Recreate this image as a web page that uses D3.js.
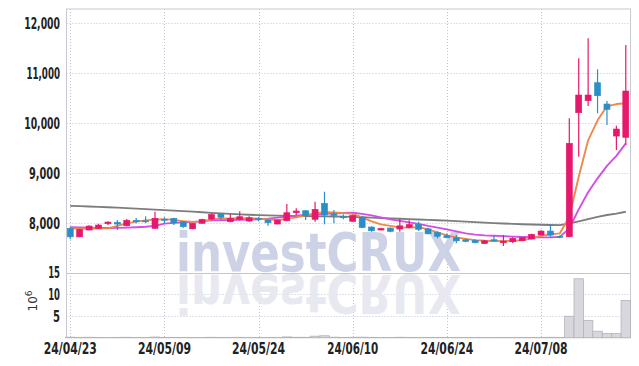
<!DOCTYPE html>
<html>
<head>
<meta charset="utf-8">
<script src="https://cdn.jsdelivr.net/npm/d3@7"></script>
<style>
  body { margin: 0; background: #fff; }
  svg { display: block; }
  .tick-label { font-family: "Liberation Sans Narrow", "DejaVu Sans Condensed", sans-serif; font-weight: bold; fill: #222; }
</style>
</head>
<body>
<svg id="chart" width="639" height="366"></svg>
<script>
// trading days, 2024-04-23 .. 2024-07-19
const dates = [
  '24/04/23','24/04/24','24/04/25','24/04/26','24/04/29','24/04/30','24/05/02','24/05/03','24/05/07','24/05/08',
  '24/05/09','24/05/10','24/05/13','24/05/14','24/05/16','24/05/17','24/05/20','24/05/21','24/05/22','24/05/23',
  '24/05/24','24/05/27','24/05/28','24/05/29','24/05/30','24/05/31','24/06/03','24/06/04','24/06/05','24/06/07',
  '24/06/10','24/06/11','24/06/12','24/06/13','24/06/14','24/06/17','24/06/18','24/06/19','24/06/20','24/06/21',
  '24/06/24','24/06/25','24/06/26','24/06/27','24/06/28','24/07/01','24/07/02','24/07/03','24/07/04','24/07/05',
  '24/07/08','24/07/09','24/07/10','24/07/11','24/07/12','24/07/15','24/07/16','24/07/17','24/07/18','24/07/19'
];

const opens  = [7900,7730,7866,7900,7992,8020,7952,8060,8050,7900, 8080,8100,8032,7890,8000,8086,8186,8032,8080,8046,
                8100,8066,7986,8052,8212,8252,8080,8400,8186,8132, 8040,8126,7926,7866,7906,7886,7922,7980,7890,7816,
                7752,7712,7672,7660,7595,7672,7612,7632,7652,7686, 7766,7846,7740,7732,10212,10452,10812,10386,9746,9720];
const highs  = [7930,7890,7960,7990,8040,8066,8086,8106,8140,8232, 8120,8110,8040,8005,8090,8200,8200,8180,8240,8140,
                8130,8080,8070,8386,8300,8260,8432,8632,8266,8180, 8170,8140,7940,7910,7915,8086,8060,8032,7910,7840,
                7800,7766,7700,7680,7670,7766,7766,7720,7720,7790, 7860,7980,7760,10100,11300,11700,11080,10446,9952,11566];
const lows   = [7680,7720,7860,7890,7966,7866,7940,8000,8006,7890, 8000,7966,7912,7880,7995,8060,8066,8020,8060,8030,
                8040,7952,7980,8040,8166,8066,8032,7980,8000,8080, 8030,7900,7830,7860,7820,7832,7900,7846,7780,7700,
                7700,7600,7620,7600,7590,7640,7546,7600,7640,7680, 7760,7732,7700,7720,9332,10346,10200,9966,9466,9566];
const closes = [7730,7880,7946,7966,8025,7986,8060,8032,8040,8100, 8070,8010,7932,8000,8080,8176,8120,8100,8132,8112,
                8080,8012,8066,8212,8246,8152,8280,8166,8160,8112, 8160,7916,7852,7896,7840,7950,7975,7880,7790,7740,
                7712,7650,7640,7612,7650,7646,7646,7700,7712,7780, 7846,7766,7725,9600,10566,10566,10552,10280,9886,10646];

// volume, millions of shares
const volumes = [0.12,0.08,0.10,0.07,0.06,0.08,0.10,0.06,0.07,0.15, 0.08,0.07,0.08,0.06,0.07,0.10,0.08,0.07,0.09,0.06,
                 0.05,0.06,0.06,0.18,0.10,0.10,0.35,0.45,0.12,0.08, 0.10,0.12,0.08,0.06,0.06,0.10,0.08,0.07,0.06,0.07,
                 0.06,0.08,0.05,0.05,0.05,0.06,0.08,0.06,0.05,0.06, 0.07,0.10,0.06,4.95,13.6,4.0,1.5,0.95,0.95,8.6];

// moving averages
const ma5  = [7900,7895,7893,7895,7900,7950,8000,8035,8060,8075, 8085,8070,8045,8030,8035,8080,8095,8100,8105,8100,
              8095,8080,8066,8090,8120,8160,8200,8225,8220,8205, 8190,8120,8040,7980,7950,7920,7915,7925,7880,7820,
              7760,7720,7690,7665,7652,7648,7645,7650,7665,7700, 7750,7780,7800,8130,8930,9660,10060,10340,10385,10400];
const ma20 = [7925,7920,7915,7910,7908,7910,7915,7922,7932,7950, 7995,8010,8020,8030,8045,8060,8065,8068,8072,8076,
              8080,8095,8115,8140,8155,8170,8180,8190,8200,8208, 8212,8190,8160,8120,8080,8050,8020,7990,7950,7915,
              7880,7840,7800,7775,7760,7752,7745,7735,7728,7722, 7720,7722,7730,7900,8280,8620,8900,9150,9350,9600];
const ma60 = [8350,8345,8338,8330,8322,8315,8305,8295,8285,8275, 8265,8255,8245,8235,8222,8210,8200,8190,8180,8172,
              8165,8160,8155,8150,8147,8145,8143,8140,8138,8135, 8130,8122,8115,8108,8100,8092,8085,8078,8070,8062,
              8055,8045,8035,8025,8015,8005,7997,7990,7983,7978, 7972,7968,7965,7998,8040,8085,8130,8166,8195,8232];

const priceTicks = [8000, 9000, 10000, 11000, 12000];
const volTicks = [5, 10, 15];
const dateTickIdx = [0, 10, 20, 30, 40, 50];

const UP = '#e5186b', DOWN = '#2b8fc6';

const svg = d3.select('#chart');
const L = 66.5, R = 630.5, T = 9, MID = 272.7, B = 337.7;

const x = d3.scaleLinear().domain([-0.4, 59.5]).range([L, R]);
const y = d3.scaleLinear().domain([7013, 12286]).range([MID, T]);
const yv = d3.scaleLinear().domain([0, 15]).range([B, MID]);
const step = x(1) - x(0);

// the label font is narrower than anything installed, so squeeze to its width
const charW = { '1': 4.8, ',': 3, '/': 5.5 };
const labelWidth = s => d3.sum(s.split(''), c => charW[c] || 7);

// grid
const grid = svg.append('g').attr('stroke', '#bfc2d6').attr('stroke-width', 1).attr('stroke-dasharray', '1,2');
grid.selectAll('.hp').data(priceTicks).join('line')
  .attr('x1', L).attr('x2', R).attr('y1', d => Math.round(y(d)) + 0.5).attr('y2', d => Math.round(y(d)) + 0.5);
grid.selectAll('.hv').data(volTicks.slice(0, 2)).join('line')
  .attr('x1', L).attr('x2', R).attr('y1', d => Math.round(yv(d)) + 0.5).attr('y2', d => Math.round(yv(d)) + 0.5);
grid.selectAll('.vx').data(dateTickIdx).join('line')
  .attr('x1', d => Math.round(x(d)) + 0.5).attr('x2', d => Math.round(x(d)) + 0.5).attr('y1', T).attr('y2', B);

// watermark + reflection
const wm = svg.append('g').attr('font-family', 'DejaVu Sans, sans-serif').attr('font-weight', 'bold');
wm.append('text').attr('x', 176).attr('y', 271).attr('font-size', 54)
  .attr('textLength', 285).attr('lengthAdjust', 'spacingAndGlyphs')
  .attr('fill', '#c8cee4').attr('opacity', 0.9).text('investCRUX');
wm.append('text').attr('x', 176).attr('y', -275).attr('font-size', 54)
  .attr('transform', 'scale(1,-1)')
  .attr('textLength', 285).attr('lengthAdjust', 'spacingAndGlyphs')
  .attr('fill', '#e6e7ef').attr('opacity', 0.9).text('investCRUX');

// frame
const frame = svg.append('g').attr('stroke', '#c9c9d2').attr('stroke-width', 1).attr('fill', 'none');
frame.append('rect').attr('x', L).attr('y', T).attr('width', R - L).attr('height', B - T);
frame.append('line').attr('x1', L).attr('x2', R).attr('y1', Math.round(MID) + 0.5).attr('y2', Math.round(MID) + 0.5)
  .attr('stroke', '#c4c4cc');

// volume bars
svg.append('g').selectAll('rect').data(volumes).join('rect')
  .attr('x', (d, i) => x(i) - step / 2)
  .attr('width', step)
  .attr('y', d => yv(d))
  .attr('height', d => B - yv(d))
  .attr('fill', '#d7d7dd').attr('stroke', '#b3b3bb').attr('stroke-width', 0.8);

// moving averages
const line = d3.line().x((d, i) => x(i)).y(d => y(d));
[[ma60, '#7d7d7d'], [ma20, '#d24ee6'], [ma5, '#f0884b']].forEach(([arr, c]) => {
  svg.append('path').datum(arr).attr('d', line)
    .attr('fill', 'none').attr('stroke', c).attr('stroke-width', 1.9).attr('stroke-linejoin', 'round');
});

// candles
const candles = svg.append('g').selectAll('g').data(d3.range(dates.length)).join('g')
  .attr('stroke', i => closes[i] >= opens[i] ? UP : DOWN)
  .attr('fill', i => closes[i] >= opens[i] ? UP : DOWN);
candles.append('line')
  .attr('x1', i => x(i)).attr('x2', i => x(i))
  .attr('y1', i => y(highs[i])).attr('y2', i => y(lows[i]))
  .attr('stroke-width', 1.2);
candles.append('rect')
  .attr('x', i => x(i) - 3)
  .attr('width', 6)
  .attr('y', i => y(Math.max(opens[i], closes[i])))
  .attr('height', i => Math.max(1, Math.abs(y(opens[i]) - y(closes[i]))))
  .attr('stroke-width', 0.6);

// y labels, price
svg.append('g').selectAll('text').data(priceTicks).join('text')
  .attr('class', 'tick-label').attr('font-size', 16)
  .attr('x', 60).attr('y', d => y(d)).attr('dy', '0.36em').attr('text-anchor', 'end')
  .attr('textLength', d => labelWidth(d3.format(',')(d))).attr('lengthAdjust', 'spacingAndGlyphs')
  .text(d => d3.format(',')(d));

// y labels, volume
svg.append('g').selectAll('text').data(volTicks).join('text')
  .attr('class', 'tick-label').attr('font-size', 16)
  .attr('x', 60).attr('y', d => yv(d)).attr('dy', '0.36em').attr('text-anchor', 'end')
  .attr('textLength', d => labelWidth(String(d))).attr('lengthAdjust', 'spacingAndGlyphs')
  .text(d => d);

const unit = svg.append('text').attr('transform', 'translate(36.5,301) rotate(-90)')
  .attr('text-anchor', 'middle').attr('font-family', 'DejaVu Sans, sans-serif').attr('font-size', 12).attr('fill', '#333');
unit.append('tspan').text('10');
unit.append('tspan').attr('dy', -5).attr('font-size', 9).text('6');

// x labels
svg.append('g').selectAll('text').data(dateTickIdx).join('text')
  .attr('class', 'tick-label').attr('font-size', 16)
  .attr('x', d => x(d)).attr('y', 353.5).attr('text-anchor', 'middle')
  .attr('textLength', d => labelWidth(dates[d])).attr('lengthAdjust', 'spacingAndGlyphs')
  .text(d => dates[d]);
</script>
</body>
</html>
